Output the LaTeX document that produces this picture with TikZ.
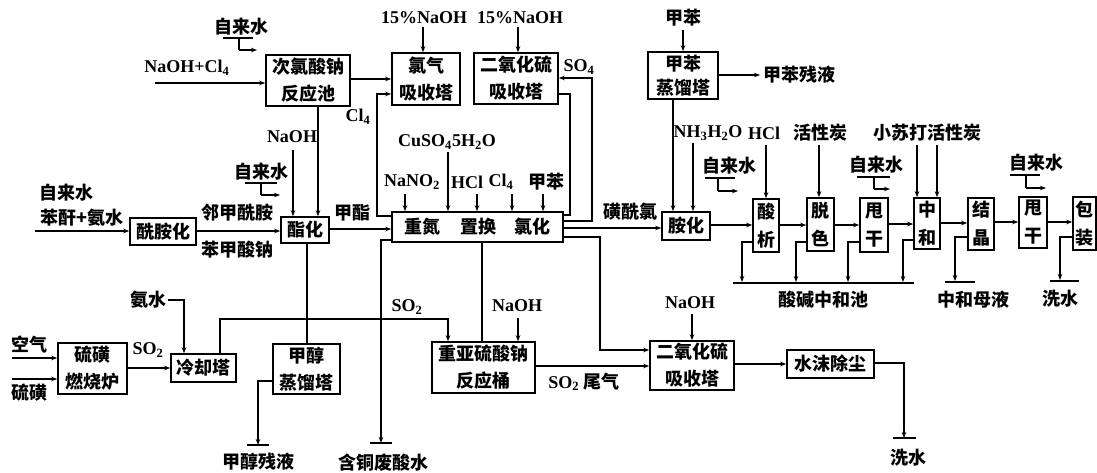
\documentclass[tikz,border=0pt]{standalone}
\usepackage{fontspec}
\setmainfont{Liberation Serif}
\newfontfamily\cjk{Noto Sans CJK SC}
\usetikzlibrary{arrows.meta}
\newcommand\cf{\cjk\bfseries\fontsize{18}{27}\selectfont}
\newcommand\cfv{\cjk\bfseries\fontsize{18}{28}\selectfont}
\newcommand\ef{\bfseries\fontsize{18}{22}\selectfont}
\newcommand\sub[1]{\textsubscript{#1}}
\begin{document}
\begin{tikzpicture}[x=1pt,y=-1pt,
  box/.style={draw,line width=1.6pt,inner sep=0pt,align=center,font=\cf},
  vbox/.style={draw,line width=1.6pt,inner sep=0pt,align=center,font=\cfv},
  lab/.style={inner sep=0pt,font=\cf},
  en/.style={inner sep=0pt,font=\ef},
  ln/.style={line width=1.3pt},
  arr/.style={line width=1.3pt,-{Stealth[length=6pt,width=4.5pt]}}]
\fill[white] (0,0) rectangle (1097,473);
\useasboundingbox (0,0) rectangle (1097,473);

% ---------------- boxes
\node[box,minimum width=84pt,minimum height=51pt] (ncl) at (308,80.5) {次氯酸钠\\反应池};
\node[box,minimum width=68pt,minimum height=52pt] (oxy) at (426,79) {氯气\\吸收塔};
\node[box,minimum width=84pt,minimum height=51pt] (so2a) at (516,78.5) {二氧化硫\\吸收塔};
\node[box,minimum width=70pt,minimum height=47pt,font=\cjk\bfseries\fontsize{18}{24}\selectfont] (tol) at (683,75.5) {甲苯\\蒸馏塔};
\node[box,minimum width=66pt,minimum height=27pt] (amid) at (163,231.5) {酰胺化};
\node[box,minimum width=48pt,minimum height=26pt] (est) at (305,230) {酯化};
\node[box,minimum width=171pt,minimum height=30pt] (main) at (477.5,227) {重氮\hspace{20pt}置换\hspace{18pt}氯化};
\node[box,minimum width=48pt,minimum height=28pt] (amin) at (686,226) {胺化};
\node[vbox,minimum width=26pt,minimum height=53pt] (acid) at (766,225.5) {酸\\析};
\node[vbox,minimum width=27pt,minimum height=53pt] (dec) at (820.5,224.5) {脱\\色};
\node[vbox,minimum width=28pt,minimum height=54pt] (dry1) at (874,225) {甩\\干};
\node[vbox,minimum width=26pt,minimum height=51pt] (neu) at (927,223.5) {中\\和};
\node[vbox,minimum width=26pt,minimum height=52pt] (cry) at (981,224) {结\\晶};
\node[vbox,minimum width=28pt,minimum height=51pt] (dry2) at (1033,222.5) {甩\\干};
\node[vbox,minimum width=23pt,minimum height=53pt] (pack) at (1084.5,223.5) {包\\装};
\node[box,minimum width=69pt,minimum height=51pt] (burn) at (92.5,368.5) {硫磺\\燃烧炉};
\node[box,minimum width=65pt,minimum height=28pt] (cool) at (203.5,368) {冷却塔};
\node[box,minimum width=67pt,minimum height=50pt] (meth) at (306.5,369) {甲醇\\蒸馏塔};
\node[box,minimum width=103pt,minimum height=51pt] (bis) at (483.5,367.5) {重亚硫酸钠\\反应桶};
\node[box,minimum width=84pt,minimum height=49pt] (so2b) at (692,365.5) {二氧化硫\\吸收塔};
\node[box,minimum width=87pt,minimum height=28pt] (dust) at (830.5,364) {水沫除尘};

% ---------------- labels
\node[lab] (wa) at (241,27) {自来水};
\node[en] (nacl) at (187,68) {NaOH+Cl\sub{4}};
\node[en] (cl4a) at (358,117) {Cl\sub{4}};
\node[en] (naoh1) at (424,18) {15\%NaOH};
\node[en] (naoh2) at (520,18) {15\%NaOH};
\node[en] (so4) at (579,67) {SO\sub{4}};
\node[lab] (tolin) at (683,18) {甲苯};
\node[lab] (tolres) at (799,75) {甲苯残液};
\node[en] (naoh3) at (292,137) {NaOH};
\node[lab] (wb) at (261,172) {自来水};
\node[lab] (wc) at (66,193) {自来水};
\node[lab] (pa) at (82,218) {苯酐+氨水};
\node[lab] (lj) at (237,213) {邻甲酰胺};
\node[lab] (bj) at (237,250) {苯甲酸钠};
\node[lab] (jz) at (352,213) {甲酯};
\node[en] (cuso) at (447,142) {CuSO\sub{4}5H\sub{2}O};
\node[en] (nano) at (412,182) {NaNO\sub{2}};
\node[en] (hcl1) at (467,182) {HCl};
\node[en] (cl4b) at (501,182) {Cl\sub{4}};
\node[lab] (tol2) at (546,182) {甲苯};
\node[lab] (hxl) at (630,212) {磺酰氯};
\node[en] (nh3) at (708,133) {NH\sub{3}H\sub{2}O};
\node[en] (hcl2) at (764,133) {HCl};
\node[lab] (wd) at (729,166) {自来水};
\node[lab] (hxt1) at (820,133) {活性炭};
\node[lab] (we) at (876,165) {自来水};
\node[lab] (xsd) at (927,133) {小苏打活性炭};
\node[lab] (wf) at (1036,163) {自来水};
\node[lab] (sjc) at (823,300) {酸碱中和池};
\node[lab] (zmy) at (973,300) {中和母液};
\node[lab] (xs1) at (1060,299) {洗水};
\node[lab] (as) at (148,300) {氨水};
\node[lab] (kq) at (29,345) {空气};
\node[lab] (lh) at (29,393) {硫磺};
\node[en] (so2l) at (148,350) {SO\sub{2}};
\node[en] (so2m) at (407,307) {SO\sub{2}};
\node[en] (naoh4) at (517,306) {NaOH};
\node[en] (naoh5) at (690,303) {NaOH};
\node[inner sep=0pt] (wq) at (584,382) {\ef SO\sub{2} {\cf 尾气}};
\node[lab] (jcy) at (258,462) {甲醇残液};
\node[lab] (htf) at (383,463) {含铜废酸水};
\node[lab] (xs2) at (908,458) {洗水};

% ---------------- water marks (自来水 symbols)
\draw[ln] (223,38) -- (253,38) (239,38) -- (239,50);
\draw[arr] (239,50) -- (257,50);
\draw[ln] (245,183) -- (277,183) (261,183) -- (261,195);
\draw[arr] (261,195) -- (280,195);
\draw[ln] (705,178) -- (735,178) (718,178) -- (718,191);
\draw[arr] (718,191) -- (738,191);
\draw[ln] (857,177) -- (890,177) (874,177) -- (874,189);
\draw[arr] (874,189) -- (890,189);
\draw[ln] (1010,175) -- (1040,175) (1026,175) -- (1026,188);
\draw[arr] (1026,188) -- (1046,188);

% ---------------- free end coordinates
\coordinate (cNC) at (155,83);
\coordinate (cIn) at (35,231);
\coordinate (cAir) at (12,358);
\coordinate (cS) at (12,379);
\coordinate (cAm) at (168,300);
\coordinate (cTr) at (760,75);
\coordinate (gCu) at (381,443);
\coordinate (gMe) at (258,445);
\coordinate (gDu) at (904,438);
\coordinate (gCr) at (955,281);
\coordinate (gPa) at (1060,280);

% ---------------- connectors: top
\draw[arr] (cNC) -- (ncl.west |- cNC);
\draw[arr] (ncl.east |- 0,79) -- (oxy.west |- 0,79);
\draw[arr] (main.west |- 0,216) -- (377,216) -- (377,94) -- (oxy.west |- 0,94);
\draw[arr] (naoh1.south -| 423,0) ++(0,3) -- (oxy.north -| 423,0);
\draw[arr] (naoh2.south -| 518,0) ++(0,3) -- (so2a.north -| 518,0);
\draw[arr] (main.east |- 0,221) -- (592,221) -- (592,78) -- (so2a.east |- 0,78);
\draw[ln] (main.east |- 0,215) -- (570,215) -- (570,94) -- (so2a.east |- 0,94);
\draw[arr] (tolin.south) ++(0,3) -- (tol.north);
\draw[arr] (tol.east |- cTr) -- (cTr);
\draw[arr] (tol.south -| 673,0) -- (amin.north -| 673,0);
\draw[arr] (693,143) -- (amin.north -| 693,0);

% ---------------- left part
\draw[arr] (cIn) -- (amid.west |- cIn);
\draw[arr] (amid.east |- 0,231) -- (est.west |- 0,231);
\draw[arr] (ncl.south -| 318,0) -- (est.north -| 318,0);
\draw[arr] (293,150) -- (est.north -| 293,0);
\draw[arr] (est.east |- 0,229) -- (main.west |- 0,229);
\draw[ln] (est.south -| 307,0) -- (meth.north -| 307,0);

% main box inputs
\draw[arr] (405,194) -- (main.north -| 405,0);
\draw[arr] (448,152) -- (main.north -| 448,0);
\draw[arr] (477,194) -- (main.north -| 477,0);
\draw[arr] (512,194) -- (main.north -| 512,0);
\draw[arr] (543,194) -- (main.north -| 543,0);

% main outputs
\draw[arr] (main.east |- 0,228) -- (amin.west |- 0,228);
\draw[arr] (main.east |- 0,237) -- (600,237) -- (600,350) -- (so2b.west |- 0,350);
\draw[ln] (main.south -| 482,0) -- (bis.north -| 482,0);
\draw[arr] (main.west |- 0,240) -- (381,240) -- (gCu);
\draw[ln] (370,443) -- (392,443);

% ---------------- bottom left
\draw[arr] (cAir) -- (burn.west |- cAir);
\draw[arr] (cS) -- (burn.west |- cS);
\draw[arr] (burn.east |- 0,368) -- (cool.west |- 0,368);
\draw[arr] (cAm) -- (184,300) -- (cool.north -| 184,0);
\draw[arr] (cool.north -| 220,0) -- (220,319) -- (448,319) -- (bis.north -| 448,0);
\draw[arr] (meth.west |- 0,381) -- (258,381) -- (gMe);
\draw[ln] (247,445) -- (269,445);
\draw[arr] (518,318) -- (bis.north -| 518,0);
\draw[arr] (bis.east |- 0,366) -- (so2b.west |- 0,366);
\draw[arr] (692,314) -- (so2b.north -| 692,0);
\draw[arr] (so2b.east |- 0,364) -- (dust.west |- 0,364);
\draw[arr] (dust.east |- 0,363) -- (904,363) -- (gDu);
\draw[ln] (893,438) -- (916,438);

% ---------------- right chain
\draw[arr] (amin.east |- 0,225) -- (acid.west |- 0,225);
\draw[arr] (acid.east |- 0,225) -- (dec.west |- 0,225);
\draw[arr] (dec.east |- 0,225) -- (dry1.west |- 0,225);
\draw[arr] (dry1.east |- 0,224) -- (neu.west |- 0,224);
\draw[arr] (neu.east |- 0,223) -- (cry.west |- 0,223);
\draw[arr] (cry.east |- 0,222) -- (dry2.west |- 0,222);
\draw[arr] (dry2.east |- 0,222) -- (pack.west |- 0,222);
\draw[arr] (766,145) -- (acid.north -| 766,0);
\draw[arr] (819,145) -- (dec.north -| 819,0);
\draw[arr] (917,145) -- (neu.north -| 917,0);
\draw[arr] (937,145) -- (neu.north -| 937,0);

\draw[arr] (acid.west |- 0,242) -- (742,242) -- (742,282);
\draw[arr] (dec.west |- 0,242) -- (796,242) -- (796,282);
\draw[arr] (dry1.west |- 0,242) -- (848,242) -- (848,282);
\draw[arr] (neu.west |- 0,240) -- (903,240) -- (903,282);
\draw[ln] (733,283) -- (914,283);
\draw[arr] (cry.west |- 0,237) -- (955,237) -- (gCr);
\draw[ln] (945,282) -- (975,282);
\draw[arr] (pack.west |- 0,237) -- (1060,237) -- (gPa);
\draw[ln] (1050,281) -- (1079,281);
\end{tikzpicture}
\end{document}
